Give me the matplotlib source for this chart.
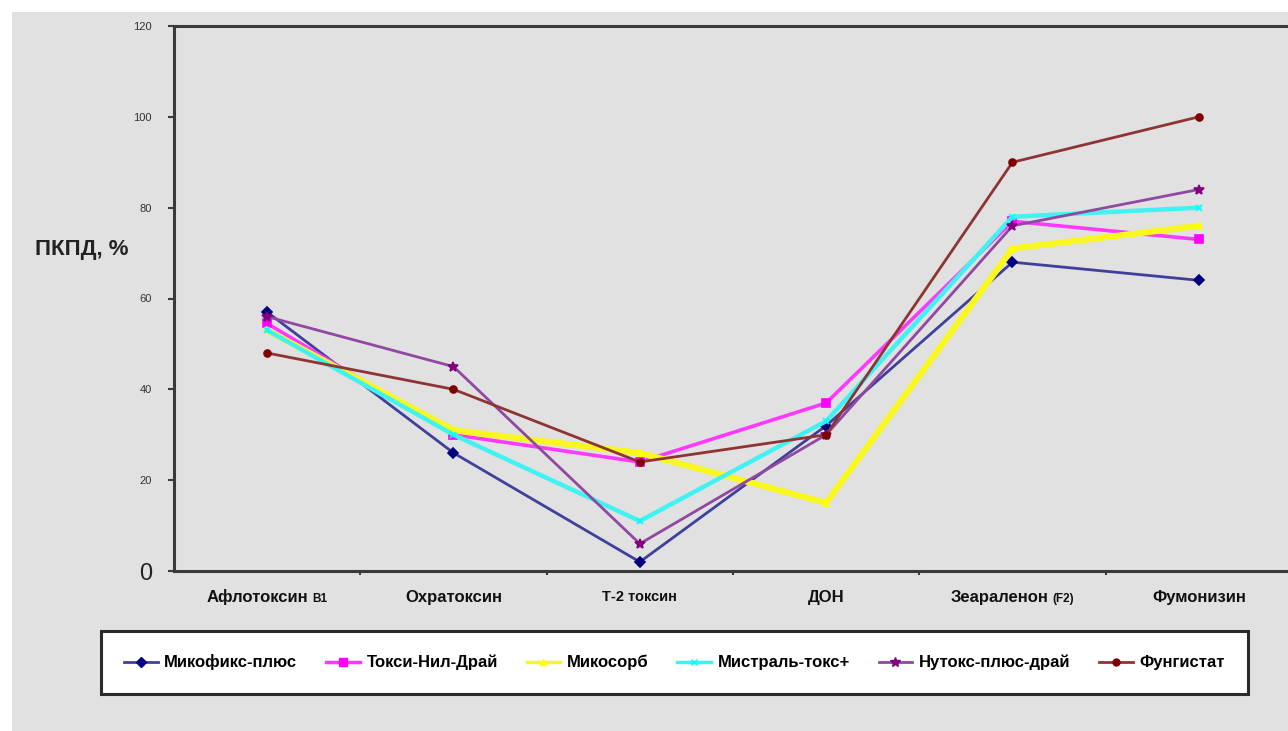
import matplotlib
matplotlib.use('Agg')
import matplotlib.pyplot as plt
from matplotlib import font_manager
from matplotlib.patches import Rectangle
from matplotlib.offsetbox import TextArea, HPacker, AnnotationBbox
from matplotlib.lines import Line2D

available = {f.name for f in font_manager.fontManager.ttflist}
families = [f for f in ['Liberation Sans Narrow', 'DejaVu Sans Condensed',
                        'Liberation Sans', 'DejaVu Sans'] if f in available]
plt.rcParams['font.family'] = families
condensed = any(f in available for f in ['Liberation Sans Narrow', 'DejaVu Sans Condensed'])

# ---- data ----
categories = ['Афлотоксин', 'Охратоксин', 'Т-2 токсин', 'ДОН', 'Зеараленон', 'Фумонизин']
category_suffixes = ['B1', '', '', '', '(F2)', '']
series_names = ['Микофикс-плюс', 'Токси-Нил-Драй', 'Микосорб',
                'Мистраль-токс+', 'Нутокс-плюс-драй', 'Фунгистат']
mikofiks = [57, 26, 2, 32, 68, 64]
toksi_nil = [54.5, 30, 24, 37, 77, 73]
mikosorb = [53, 31, 26, 15, 71, 76]
mistral = [53, 30, 11, 33, 78, 80]
nutoks = [56, 45, 6, 30, 76, 84]
fungistat = [48, 40, 24, 30, 90, 100]
y_ticks = [0, 20, 40, 60, 80, 100, 120]
y_label = 'ПКПД, %'

series_values = [mikofiks, toksi_nil, mikosorb, mistral, nutoks, fungistat]
line_colors = ['#40409a', '#ff38ff', '#f8f820', '#40f2f2', '#9048a0', '#8e3434']
marker_colors = ['#000080', '#ff00ff', '#ffff00', '#00ffff', '#800080', '#800000']
markers = ['D', 's', '^', 'x', '*', 'o']
marker_sizes = [5, 6, 5, 5, 7, 5]
line_widths = [2.0, 2.6, 4.5, 3.2, 2.0, 2.0]

W, H = 1288, 731
fig = plt.figure(figsize=(W / 100, H / 100), dpi=100)
fig.patch.set_facecolor('white')
bg = '#e1e1e1'
fig.patches.append(Rectangle((12 / W, 0), 1 - 12 / W, 1 - 12 / H,
                             transform=fig.transFigure, facecolor=bg,
                             edgecolor='none', zorder=-10))

ax_left, ax_right, ax_top, ax_bottom = 174, 1292, 26, 571
ax = fig.add_axes([ax_left / W, 1 - ax_bottom / H,
                   (ax_right - ax_left) / W, (ax_bottom - ax_top) / H])
ax.set_facecolor(bg)

x = list(range(len(categories)))
for vals, lc, mc, m, ms, lw in zip(series_values, line_colors, marker_colors,
                                   markers, marker_sizes, line_widths):
    ax.plot(x, vals, color=lc, lw=lw, marker=m, markersize=ms,
            markerfacecolor=mc, markeredgecolor=mc, markeredgewidth=1.2,
            solid_joinstyle='miter', zorder=3)

ax.set_xlim(-0.5, len(categories) - 0.5)
ax.set_ylim(0, 120)

for side in ['top', 'left', 'bottom']:
    ax.spines[side].set_color('#3a3a3a')
    ax.spines[side].set_linewidth(2.2)
ax.spines['right'].set_color('#c8c8c8')
ax.spines['right'].set_linewidth(1)

ax.set_yticks(y_ticks)
ax.set_yticklabels([str(v) for v in y_ticks])
ax.tick_params(axis='y', direction='out', length=4, width=1.5, color='#3a3a3a',
               labelsize=8, labelcolor='#333333', pad=12)
for lbl in ax.get_yticklabels():
    if lbl.get_text() == '0':
        lbl.set_fontsize(17)
        lbl.set_color('#222222')
        lbl.set_y(-0.01)

ax.set_xticks([i + 0.5 for i in x[:-1]])
ax.set_xticklabels([])
ax.tick_params(axis='x', direction='out', length=3, width=1.5, color='#3a3a3a')

big = 13 if condensed else 12
# category labels
for i, (cat, suf) in enumerate(zip(categories, category_suffixes)):
    size = big - 1.5 if cat.startswith('Т-2') else big
    parts = [TextArea(cat, textprops=dict(fontsize=size, fontweight='bold', color='#111111'))]
    if suf:
        parts.append(TextArea(suf, textprops=dict(fontsize=big - 3.5, fontweight='bold', color='#111111')))
    box = HPacker(children=parts, align='baseline', pad=0, sep=3)
    ab = AnnotationBbox(box, (i, 0), xycoords=('data', 'axes fraction'),
                        xybox=(0, -19), boxcoords='offset points',
                        frameon=False, box_alignment=(0.5, 0.5),
                        annotation_clip=False)
    ax.add_artist(ab)

fig.text(35 / W, 1 - 250 / H, y_label, fontsize=16 if not condensed else 18,
         fontweight='bold', color='#222222', ha='left', va='center')

# legend
handles = [Line2D([0], [0], color=lc, lw=min(lw, 2.5), marker=m, markersize=ms,
                  markerfacecolor=mc, markeredgecolor=mc)
           for lc, mc, m, ms, lw in zip(line_colors, marker_colors, markers,
                                        marker_sizes, line_widths)]
leg_l, leg_r, leg_t, leg_b = 101, 1248, 630, 695
leg_size = 13 if condensed else 12
leg = fig.legend(handles, series_names, ncol=6, loc='center',
                 bbox_to_anchor=(leg_l / W, 1 - leg_b / H,
                                 (leg_r - leg_l) / W, (leg_b - leg_t) / H),
                 mode='expand', frameon=True, fancybox=False,
                 prop=dict(size=leg_size, weight='bold'), handlelength=2.0,
                 handletextpad=0.4, borderaxespad=0, borderpad=1.4)
frame = leg.get_frame()
frame.set_facecolor('white')
frame.set_edgecolor('#2a2a2a')
frame.set_linewidth(2.2)
frame.set_alpha(1)

fig.savefig('out.png', dpi=100, facecolor=fig.get_facecolor())
